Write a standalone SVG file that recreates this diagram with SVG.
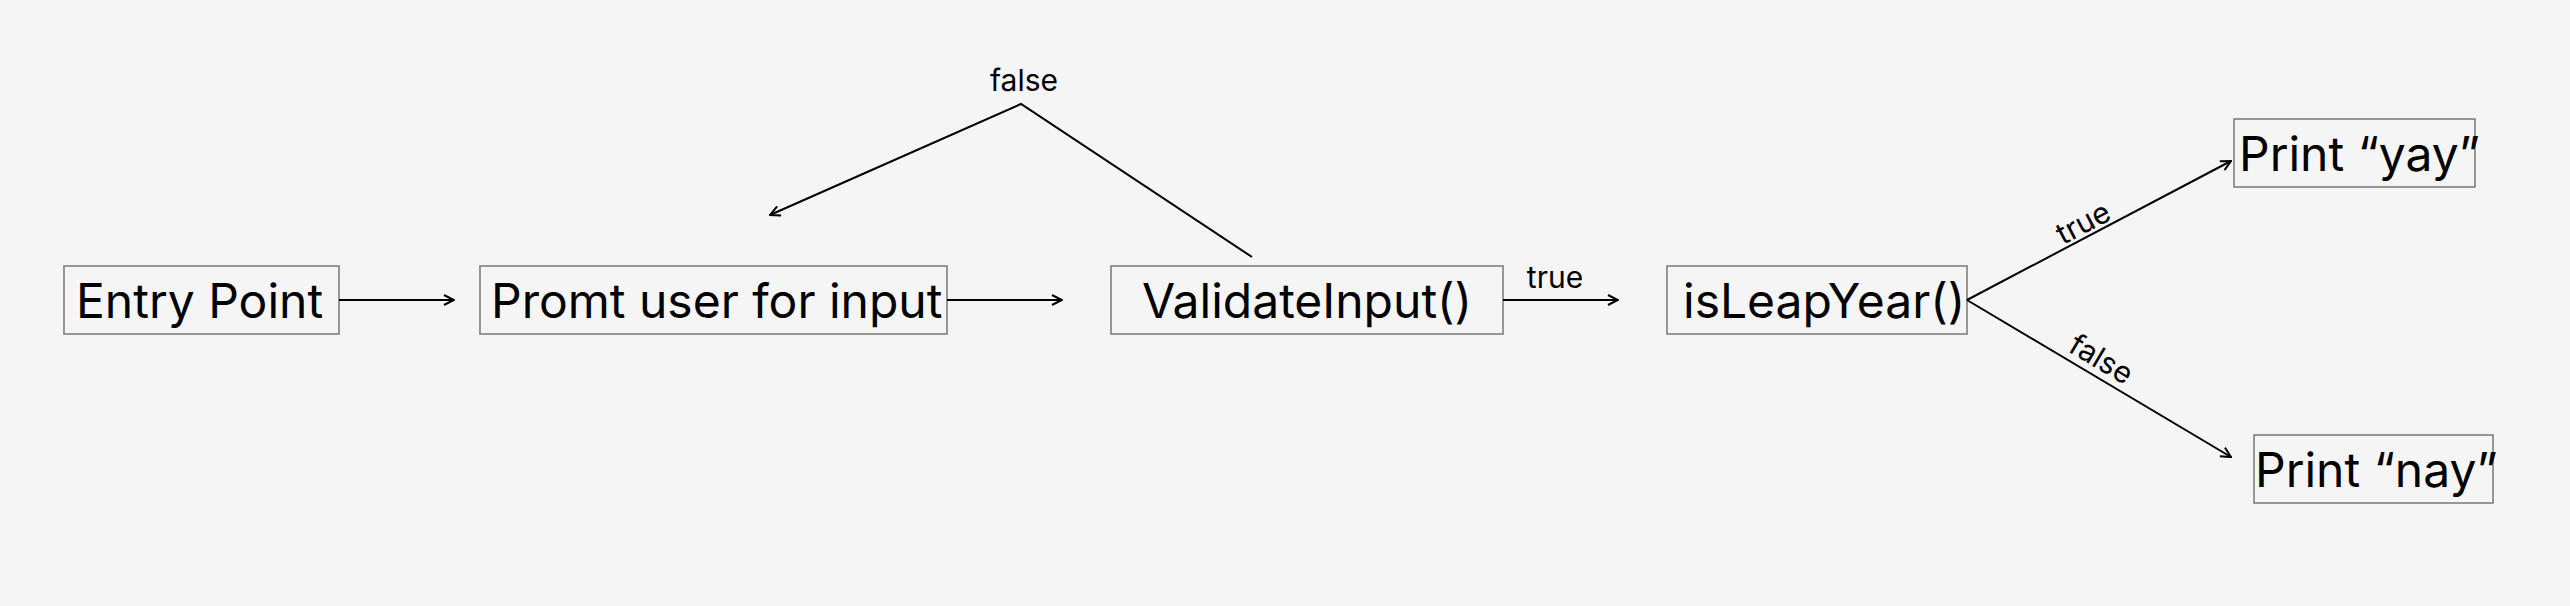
<svg xmlns="http://www.w3.org/2000/svg" width="2570" height="606" viewBox="0 0 2570 606">
<style>
.box{fill:#f5f5f5;stroke:#777;stroke-width:1.5}
.nt{font-family:Inter,"Noto Sans",sans-serif;font-size:48px;fill:#000}
.lb{font-family:Inter,"Noto Sans",sans-serif;font-size:30px;fill:#000}
.ln{fill:none;stroke:#000;stroke-width:2}
</style>
<defs>
<marker id="ah" viewBox="0 0 12 12" refX="11" refY="6" markerWidth="12" markerHeight="12" markerUnits="userSpaceOnUse" orient="auto">
<path d="M1,1 L11,6 L1,11" fill="none" stroke="#000" stroke-width="2"/>
</marker>
</defs>
<rect width="2570" height="606" fill="#f5f5f5"/>
<g id="entry"><rect class="box" x="64" y="266" width="275" height="68"/><text class="nt" x="76" y="318">Entry Point</text></g>
<g id="prompt"><rect class="box" x="480" y="266" width="467" height="68"/><text class="nt" x="491" y="318">Promt user for input</text></g>
<g id="validate"><rect class="box" x="1111" y="266" width="392" height="68"/><text class="nt" x="1307" y="318" text-anchor="middle">ValidateInput()</text></g>
<g id="leap"><rect class="box" x="1667" y="266" width="300" height="68"/><text class="nt" x="1683" y="318">isLeapYear()</text></g>
<g id="yay"><rect class="box" x="2234" y="119" width="241" height="68"/><text class="nt" x="2239" y="171">Print “yay”</text></g>
<g id="nay"><rect class="box" x="2254" y="435" width="239" height="68"/><text class="nt" x="2255" y="487">Print “nay”</text></g>
<g id="connectors">
<line class="ln" x1="339" y1="300" x2="454" y2="300" marker-end="url(#ah)"/>
<line class="ln" x1="947" y1="300" x2="1062" y2="300" marker-end="url(#ah)"/>
<line class="ln" x1="1503" y1="300" x2="1618" y2="300" marker-end="url(#ah)"/>
<text class="lb" x="1555" y="288" text-anchor="middle">true</text>
<polyline class="ln" points="1252,257 1021,104 770,215" marker-end="url(#ah)"/>
<text class="lb" x="1024" y="91" text-anchor="middle">false</text>
<line class="ln" x1="1967" y1="300" x2="2231" y2="161" marker-end="url(#ah)"/>
<text class="lb" transform="translate(2088,232) rotate(-27.8)" text-anchor="middle">true</text>
<line class="ln" x1="1967" y1="300" x2="2231" y2="457" marker-end="url(#ah)"/>
<text class="lb" transform="translate(2096,368) rotate(30.7)" text-anchor="middle">false</text>
</g>
</svg>
